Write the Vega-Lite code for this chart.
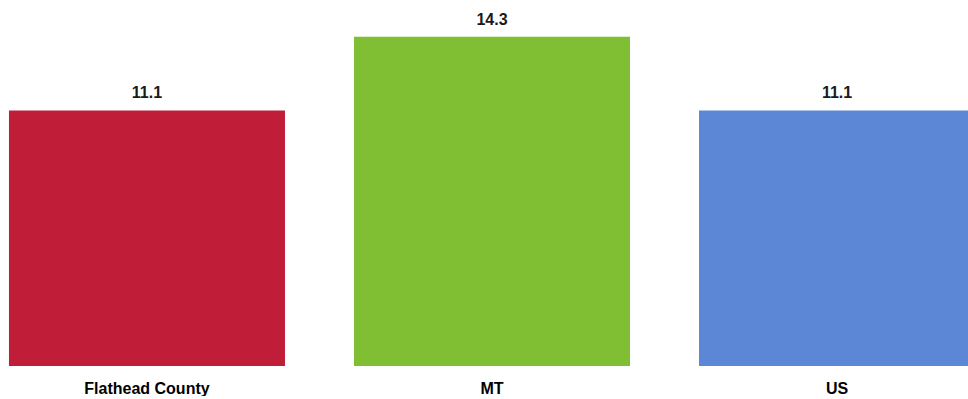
{
  "$schema": "https://vega.github.io/schema/vega-lite/v6.json",
  "width": 984,
  "height": 366,
  "padding": 0,
  "autosize": {"type": "pad"},
  "background": "white",
  "config": {"view": {"stroke": null}},
  "data": {"values": [
    {"region": "Flathead County", "value": 11.1},
    {"region": "MT", "value": 14.3},
    {"region": "US", "value": 11.1}
  ]},
  "encoding": {
    "x": {"field": "region", "type": "nominal", "sort": null,
      "scale": {"paddingInner": 0.2, "paddingOuter": 0.026},
      "axis": {"title": null, "labelAngle": 0, "domain": false, "ticks": false, "labelPadding": 14,
        "labelFont": "Liberation Sans", "labelFontWeight": "bold", "labelFontSize": 16, "labelColor": "#000000"}},
    "y": {"field": "value", "type": "quantitative", "scale": {"domain": [0, 15.9]}, "axis": null}
  },
  "layer": [
    {"mark": {"type": "bar"},
     "encoding": {"color": {"field": "region", "type": "nominal", "legend": null,
       "scale": {"domain": ["Flathead County", "MT", "US"], "range": ["#C01E38", "#80BF33", "#5B87D6"]}}}},
    {"mark": {"type": "text", "dy": -17, "font": "Liberation Sans", "fontWeight": "bold", "fontSize": 16, "color": "#1a1a1a"},
     "encoding": {"text": {"field": "value", "type": "quantitative", "format": ".1f"}}}
  ]
}
